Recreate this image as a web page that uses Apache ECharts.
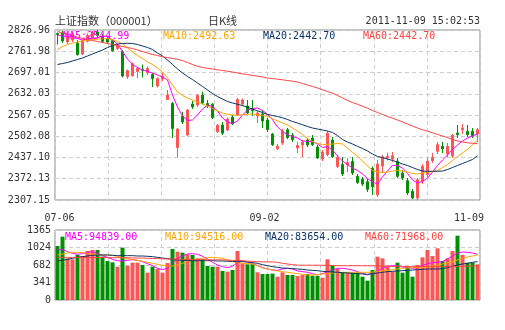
<!DOCTYPE html>
<html><head><meta charset="utf-8">
<script src="https://cdn.jsdelivr.net/npm/echarts@6/dist/echarts.min.js"></script>
<style>html,body{margin:0;padding:0;background:#fff}#c{width:505px;height:330px}</style>
</head><body><div id="c"></div>
<script>
// ---------- DATA ----------
const dates = ['07-06','07-07','07-08','07-11','07-12','07-13','07-14','07-15','07-18','07-19','07-20','07-21','07-22','07-25','07-26','07-27','07-28','07-29',
'08-01','08-02','08-03','08-04','08-05','08-08','08-09','08-10','08-11','08-12','08-15','08-16','08-17','08-18','08-19','08-22','08-23','08-24','08-25','08-26','08-29','08-30','08-31',
'09-01','09-02','09-05','09-06','09-07','09-08','09-09','09-13','09-14','09-15','09-16','09-19','09-20','09-21','09-22','09-23','09-26','09-27','09-28','09-29','09-30',
'10-10','10-11','10-12','10-13','10-14','10-17','10-18','10-19','10-20','10-21','10-24','10-25','10-26','10-27','10-28','10-31',
'11-01','11-02','11-03','11-04','11-07','11-08','11-09'];

const opens = [2816.3,2817.8,2790.3,2796.4,2787.2,2753.6,2792.4,2802.5,2820.8,2807.7,
2799.0,2794.2,2770.4,2760.6,2684.8,2687.2,2700.0,2706.6,2696.4,2690.9,
2655.7,2677.0,2614.5,2602.2,2467.7,2562.5,2505.9,2600.7,2597.6,2628.2,
2602.2,2599.2,2515.7,2536.5,2521.2,2560.9,2567.0,2601.0,2594.6,2587.0,
2564.0,2570.1,2551.8,2508.9,2464.0,2481.4,2522.0,2505.0,2466.0,2475.3,
2490.6,2496.7,2469.2,2432.5,2446.3,2490.6,2409.6,2415.7,2414.2,2424.8,
2379.0,2371.3,2363.1,2404.0,2322.4,2411.0,2436.0,2432.5,2425.5,2389.7,
2366.2,2333.7,2313.3,2364.3,2384.5,2427.3,2456.1,2471.3,2447.8,2441.6,
2512.0,2522.0,2517.2,2517.2,2509.0];
const closes = [2813.2,2793.3,2808.6,2814.7,2751.4,2794.2,2810.7,2820.8,2810.7,2792.4,
2790.0,2763.7,2781.1,2686.3,2702.5,2723.9,2709.2,2703.6,2709.8,2678.7,
2678.7,2686.0,2628.2,2525.8,2524.2,2545.6,2582.3,2591.5,2626.7,2603.8,
2594.6,2559.4,2535.8,2511.4,2554.8,2539.5,2614.5,2613.0,2573.2,2581.0,
2573.2,2548.7,2522.7,2476.2,2471.3,2517.2,2498.3,2491.6,2473.8,2484.5,
2475.3,2476.2,2435.6,2453.9,2511.4,2440.2,2437.1,2386.6,2421.8,2389.7,
2360.7,2356.0,2339.9,2348.0,2417.2,2438.6,2441.0,2442.6,2379.6,2374.2,
2328.6,2313.3,2369.2,2410.2,2425.5,2437.7,2476.2,2464.0,2471.3,2505.2,
2506.8,2527.3,2506.8,2502.0,2522.0];
const lows = [2782.6,2787.2,2784.2,2790.3,2749.0,2750.5,2788.7,2797.9,2805.6,2787.2,
2785.0,2761.0,2765.8,2681.7,2677.1,2684.8,2680.2,2681.7,2689.4,2652.7,
2651.1,2671.0,2612.9,2496.7,2437.5,2539.5,2501.3,2585.4,2591.5,2599.2,
2588.5,2554.8,2512.0,2505.9,2518.1,2536.5,2564.0,2594.6,2570.1,2564.0,
2542.6,2527.3,2515.1,2472.3,2460.0,2475.3,2493.7,2484.5,2450.9,2438.6,
2469.2,2472.3,2432.5,2426.4,2441.7,2435.6,2405.0,2380.5,2392.8,2383.6,
2356.0,2350.0,2331.6,2322.4,2316.3,2389.7,2428.0,2423.0,2374.0,2368.3,
2322.4,2310.2,2307.15,2356.0,2377.5,2420.3,2447.8,2450.9,2438.6,2435.6,
2496.7,2509.0,2499.8,2496.7,2484.5];
const highs = [2819.3,2823.9,2817.8,2820.8,2796.4,2797.9,2816.3,2824.5,2826.96,2814.7,
2805.0,2797.9,2784.2,2765.8,2706.2,2727.6,2713.8,2721.5,2715.4,2695.5,
2681.7,2695.5,2643.5,2606.8,2527.3,2576.2,2585.4,2609.9,2631.3,2638.3,
2612.9,2603.8,2539.5,2545.6,2559.4,2567.0,2619.0,2617.5,2612.9,2612.9,
2579.3,2582.3,2557.9,2512.0,2478.4,2524.2,2527.3,2512.0,2485.4,2490.6,
2496.7,2505.9,2475.3,2460.0,2518.1,2499.8,2444.7,2438.6,2435.6,2438.6,
2386.6,2377.5,2371.3,2410.0,2429.5,2444.7,2452.0,2454.0,2435.6,2398.9,
2374.4,2340.8,2374.4,2417.2,2435.6,2450.9,2484.5,2484.5,2481.4,2509.0,
2536.5,2539.5,2536.5,2527.3,2527.3];

const ma5 = [2811.7,2808.6,2807.1,2808.6,2801.0,2796.4,2799.4,2802.5,2802.5,2808.6,
2807.1,2796.4,2784.2,2761.2,2738.3,2721.5,2712.3,2704.7,2700.1,2695.5,
2689.4,2683.3,2674.1,2628.2,2591.5,2564.0,2550.2,2551.8,2567.0,2585.4,
2597.6,2593.0,2579.3,2557.9,2545.7,2541.1,2548.7,2567.0,2582.3,2586.9,
2588.5,2580.8,2570.1,2552.7,2530.4,2516.6,2506.8,2501.3,2496.7,2487.6,
2486.6,2486.0,2478.4,2467.7,2470.7,2460.0,2441.7,2426.4,2415.7,2405.0,
2397.4,2386.7,2372.9,2362.2,2356.1,2377.5,2395.8,2412.6,2412.6,2405.0,
2388.2,2368.3,2359.1,2363.7,2374.4,2392.8,2412.6,2429.5,2444.7,2461.6,
2475.3,2487.6,2496.7,2502.9,2509.0];
const ma10 = [2767.3,2776.5,2782.6,2787.2,2790.3,2793.3,2795.5,2797.0,2798.8,2800.1,
2801.0,2797.9,2791.8,2784.2,2771.9,2759.7,2749.0,2739.8,2729.1,2721.5,
2710.8,2698.5,2680.2,2658.8,2637.4,2626.7,2619.0,2612.9,2606.8,2600.7,
2594.6,2586.9,2579.3,2573.2,2569.2,2567.0,2566.1,2567.7,2569.2,2570.1,
2568.6,2565.5,2563.1,2556.4,2548.7,2542.6,2536.5,2527.3,2518.1,2507.4,
2495.2,2486.0,2479.9,2476.9,2476.9,2478.4,2479.9,2478.4,2466.1,2452.4,
2441.7,2426.4,2411.1,2397.3,2392.8,2391.2,2392.8,2395.8,2397.3,2395.8,
2392.8,2388.2,2386.6,2389.7,2392.8,2394.3,2397.3,2406.5,2415.7,2427.9,
2440.2,2450.9,2461.8,2475.3,2490.6];
const ma20 = [2721.5,2724.5,2727.6,2732.2,2736.8,2741.3,2747.5,2753.6,2759.7,2765.8,
2773.5,2779.6,2784.2,2785.7,2786.3,2785.7,2782.6,2778.0,2773.5,2767.3,
2756.6,2747.5,2735.2,2721.5,2707.7,2695.5,2684.8,2675.6,2664.9,2654.2,
2643.5,2632.8,2623.6,2616.0,2608.3,2603.8,2599.8,2596.1,2590.6,2585.4,
2579.9,2574.7,2568.6,2565.5,2562.5,2558.5,2553.3,2547.2,2542.6,2537.1,
2531.9,2527.3,2524.2,2521.2,2518.1,2513.5,2504.4,2492.1,2484.5,2478.4,
2471.3,2464.6,2457.0,2447.8,2440.2,2437.1,2432.5,2427.9,2423.3,2417.2,
2412.6,2406.5,2400.4,2395.8,2394.9,2394.9,2394.9,2395.8,2400.4,2406.5,
2412.6,2418.8,2424.9,2431.0,2442.3];
const ma60 = [2822.4,2817.8,2814.7,2810.1,2805.6,2801.0,2797.9,2794.9,2791.8,2788.8,
2785.7,2782.6,2779.6,2776.5,2773.3,2770.4,2765.8,2761.2,2756.6,2752.0,
2749.0,2745.0,2742.6,2740.1,2737.4,2733.7,2727.6,2721.5,2716.0,2712.3,
2709.9,2707.7,2705.3,2703.1,2701.0,2698.5,2695.5,2693.0,2690.6,2688.1,
2685.7,2683.3,2680.2,2678.4,2676.5,2674.7,2672.5,2670.4,2667.9,2663.4,
2658.7,2654.2,2649.6,2644.1,2638.9,2633.7,2626.7,2619.6,2611.4,2605.3,
2599.8,2593.9,2587.9,2580.8,2574.7,2568.6,2562.5,2557.3,2551.8,2545.7,
2539.5,2533.4,2527.3,2521.8,2517.5,2512.6,2507.7,2502.9,2498.0,2492.1,
2487.6,2484.5,2482.1,2480.5,2479.3];

const volumes = [1053,1235,812,793,877,858,955,975,975,845,
760,734,650,1021,669,728,728,682,533,650,
604,533,721,995,942,923,890,877,812,793,
663,650,650,566,553,585,955,715,696,700,
540,507,507,514,455,540,488,488,468,488,
507,475,468,435,793,683,605,533,533,533,
533,455,377,585,845,812,650,553,728,533,
650,455,683,832,975,858,1007,760,812,955,
1254,880,728,728,696];
const vma5 = [975,988,943,910,891,904,930,943,904,865,
832,793,767,761,774,787,774,748,708,670,
618,592,618,715,813,858,897,904,891,852,
800,735,683,650,631,657,735,761,735,715,
670,631,605,585,578,605,618,605,566,553,
540,514,488,514,553,585,618,618,605,585,
553,520,488,520,566,618,663,670,663,643,
631,618,631,670,708,728,735,748,800,858,
917,936,930,917,891];
const vma10 = [878,897,917,930,930,923,910,891,884,878,
878,871,852,826,806,787,774,754,735,715,
696,676,663,663,683,715,748,774,793,813,
826,832,826,813,780,748,728,715,715,702,
670,631,605,585,566,553,540,527,514,501,
488,488,494,507,520,527,533,540,540,540,
540,540,540,546,553,566,578,592,605,618,
624,631,631,631,637,657,683,702,728,748,
780,813,839,858,878];
const vma20 = [760,774,793,813,832,845,858,871,878,878,
878,871,865,865,865,865,858,858,852,845,
832,819,806,793,780,774,767,767,767,767,
767,767,761,761,754,754,748,748,741,728,
715,689,670,650,637,624,618,611,605,598,
585,578,572,559,553,546,540,533,527,520,
514,507,501,514,527,540,553,559,566,572,
578,585,592,598,605,605,605,611,631,657,
683,702,715,735,748];
const vma60 = [832,832,831,831,830,829,829,828,828,827,
826,825,825,824,823,820,819,818,812,810,
808,802,800,799,798,792,790,789,789,788,
784,783,783,782,781,772,770,768,756,754,
746,744,743,742,735,715,702,689,680,679,
679,678,678,677,676,671,670,670,669,669,
669,668,668,667,666,658,657,656,656,655,
651,650,650,650,650,650,650,650,651,651,
656,657,658,664,666];

const priceTicks = [2307.15,2372.13,2437.10,2502.08,2567.05,2632.03,2697.01,2761.98,2826.96];
const volTickLabels = ['0','341','682','1024','1365'];
const volMax = 1365;
const xLabelIdx = [0, 42, 84];

const titleText = '上证指数（000001）';
const subText = '日K线';
const timeText = '2011-11-09 15:02:53';
const maLabels = ['MA5:2544.99','MA10:2492.63','MA20:2442.70','MA60:2442.70'];
const volMaLabels = ['MA5:94839.00','MA10:94516.00','MA20:83654.00','MA60:71968.00'];

// ---------- STYLE ----------
const UP = '#ff5555', DOWN = '#008f00';
const MA_COLORS = ['#ff00ff', '#ffa500', '#0a3366', '#ff4444'];
const MONO = 'DejaVu Sans Mono';
const gridLine = { show: true, lineStyle: { color: '#cfcfcf', type: [4, 3], width: 1 } };

const chart = echarts.init(document.getElementById('c'), null, { renderer: 'canvas' });

const titles = [
  { text: titleText, left: 55, top: 15, padding: 0, textStyle: { fontSize: 11, fontWeight: 'normal', color: '#333', fontFamily: 'Noto Sans CJK SC' } },
  { text: subText, left: 208, top: 15, padding: 0, textStyle: { fontSize: 11, fontWeight: 'normal', color: '#333', fontFamily: 'Noto Sans CJK SC' } },
  { text: timeText, right: 25, top: 16, padding: 0, textStyle: { fontSize: 10, fontWeight: 'normal', color: '#333', fontFamily: MONO } }
];
maLabels.forEach((t, k) => titles.push({ text: t, left: 63 + 100 * k, top: 31, padding: 0, textStyle: { fontSize: 10, fontWeight: 'normal', color: MA_COLORS[k], fontFamily: MONO } }));
volMaLabels.forEach((t, k) => titles.push({ text: t, left: 65 + 100 * k, top: 232, padding: 0, textStyle: { fontSize: 10, fontWeight: 'normal', color: MA_COLORS[k], fontFamily: MONO } }));

const candleData = dates.map((d, i) => [opens[i], closes[i], lows[i], highs[i]]);
const volData = volumes.map((v, i) => ({ value: v, itemStyle: { color: closes[i] >= opens[i] ? UP : DOWN } }));

function maSeries(name, data, color, xi, yi) {
  return { name, type: 'line', data, xAxisIndex: xi, yAxisIndex: yi, symbol: 'none', smooth: false,
    lineStyle: { color, width: 1 }, itemStyle: { color }, z: 5, silent: true };
}

const option = {
  animation: false,
  backgroundColor: '#fff',
  title: titles,
  grid: [
    { left: 55, top: 30, width: 425, height: 170, show: true, borderColor: '#888', borderWidth: 1, backgroundColor: '#fff', outerBoundsMode: 'none' },
    { left: 55, top: 230, width: 425, height: 70, show: true, borderColor: '#888', borderWidth: 1, backgroundColor: '#fff', outerBoundsMode: 'none' }
  ],
  xAxis: [
    { type: 'category', gridIndex: 0, data: dates, boundaryGap: true,
      axisLine: { show: false }, axisTick: { show: false }, splitLine: { show: false },
      axisLabel: { show: true, margin: 13, color: '#333', fontFamily: MONO, fontSize: 10, hideOverlap: false,
        interval: (idx) => xLabelIdx.indexOf(idx) >= 0,
        formatter: (v, idx) => idx === 0 ? '{l|' + v + '}' : (idx === dates.length - 1 ? '{r|' + v + '}' : '{m|' + v + '}'),
        rich: {
          l: { padding: [0, 0, 0, 4], color: '#333', fontFamily: MONO, fontSize: 10 },
          m: { padding: [0, 6, 0, 0], color: '#333', fontFamily: MONO, fontSize: 10 },
          r: { padding: [0, 17, 0, 0], color: '#333', fontFamily: MONO, fontSize: 10 }
        } } },
    { type: 'category', gridIndex: 1, data: dates, boundaryGap: true,
      axisLine: { show: false }, axisTick: { show: false }, splitLine: { show: false }, axisLabel: { show: false } },
    { type: 'value', gridIndex: 0, min: 0, max: 8, interval: 1,
      axisLine: { show: false }, axisTick: { show: false }, axisLabel: { show: false }, splitLine: gridLine },
    { type: 'value', gridIndex: 1, min: 0, max: 8, interval: 1,
      axisLine: { show: false }, axisTick: { show: false }, axisLabel: { show: false }, splitLine: gridLine }
  ],
  yAxis: [
    { type: 'value', gridIndex: 0, min: priceTicks[0], max: priceTicks[priceTicks.length - 1], scale: true,
      axisLine: { show: false }, axisTick: { show: false, customValues: priceTicks },
      axisLabel: { customValues: priceTicks, margin: 5, color: '#333', fontFamily: MONO, fontSize: 10,
        formatter: (v) => v.toFixed(2), showMinLabel: true, showMaxLabel: true },
      splitLine: gridLine },
    { type: 'value', gridIndex: 1, min: 0, max: volMax, interval: volMax / 4,
      axisLine: { show: false }, axisTick: { show: false },
      axisLabel: { margin: 4, color: '#333', fontFamily: MONO, fontSize: 10,
        formatter: (v) => volTickLabels[Math.round(v / (volMax / 4))], showMinLabel: true, showMaxLabel: true },
      splitLine: gridLine }
  ],
  series: [
    { name: 'K', type: 'candlestick', xAxisIndex: 0, yAxisIndex: 0, data: candleData, barWidth: 3, z: 3,
      itemStyle: { color: UP, color0: DOWN, borderColor: UP, borderColor0: DOWN, borderWidth: 1 } },
    maSeries('MA5', ma5, MA_COLORS[0], 0, 0),
    maSeries('MA10', ma10, MA_COLORS[1], 0, 0),
    maSeries('MA20', ma20, MA_COLORS[2], 0, 0),
    maSeries('MA60', ma60, MA_COLORS[3], 0, 0),
    { name: 'VOL', type: 'bar', xAxisIndex: 1, yAxisIndex: 1, data: volData, barWidth: 4, z: 3 },
    maSeries('VMA5', vma5, MA_COLORS[0], 1, 1),
    maSeries('VMA10', vma10, MA_COLORS[1], 1, 1),
    maSeries('VMA20', vma20, MA_COLORS[2], 1, 1),
    maSeries('VMA60', vma60, MA_COLORS[3], 1, 1)
  ]
};
chart.setOption(option);
</script>
</body></html>
